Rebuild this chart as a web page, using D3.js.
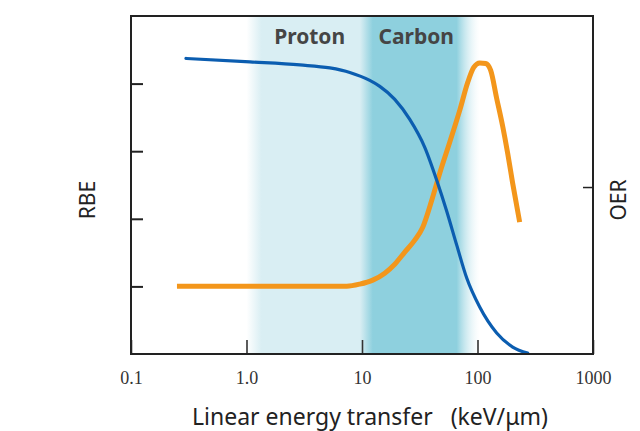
<!DOCTYPE html>
<html>
<head>
<meta charset="utf-8">
<script src="https://cdn.jsdelivr.net/npm/d3@7"></script>
<style>
  body { margin: 0; background: #fff; }
  svg { display: block; }
</style>
</head>
<body>
<svg id="chart" width="640" height="431"></svg>
<script>
// RBE / OER vs LET

// tick values on the log axis
const letTicks = [0.1, 1, 10, 100, 1000];
const letTickLabels = ["0.1", "1.0", "10", "100", "1000"];

// RBE curve (blue)
const rbeLet = [0.299, 1.07, 2.90, 5.27, 7.84, 11.68, 14.26, 19.22, 25.92, 34.94, 44.38, 54.15, 66.09, 80.66, 104.5, 146.6, 201.6, 271.8];
const rbeVal = [4.372, 4.321, 4.276, 4.232, 4.165, 4.047, 3.959, 3.767, 3.471, 3.058, 2.570, 2.112, 1.610, 1.123, 0.694, 0.310, 0.103, 0.015];

// OER curve (orange)
const oerLet = [0.25, 7.39, 9.57, 12.40, 15.75, 19.22, 23.46, 28.62, 33.57, 40.17, 47.10, 57.47, 70.15, 82.29, 92.71, 104.5, 117.8, 130.1, 146.6, 165.2, 182.5, 201.6, 231.8];
const oerVal = [1.004, 1.004, 1.034, 1.093, 1.196, 1.329, 1.507, 1.684, 1.876, 2.275, 2.674, 3.132, 3.604, 4.018, 4.239, 4.306, 4.298, 4.195, 3.781, 3.368, 2.969, 2.526, 1.950];

// shaded beam regions
const bandNames = ["Proton", "Carbon"];
const bandFrom = [1.0, 12.4];
const bandTo = [12.4, 70];
// gradient edges (LET) : fade-in, proton, transition, carbon, fade-out
const shadeLet = [1.0, 1.35, 9.6, 12.4, 66, 104];
const shadeLevel = [0, 1, 1, 2, 2, 0];

const rbeTicks = [1, 2, 3, 4];
const oerTicks = [2.47];

const width = 640, height = 431;
const margin = { top: 16, right: 48, bottom: 77, left: 131 };
const innerW = 593 - margin.left;
const innerH = 354 - margin.top;

const svg = d3.select("#chart");
const g = svg.append("g").attr("transform", `translate(${margin.left},${margin.top})`);

const x = d3.scaleLog().domain([0.1, 1000]).range([0, innerW]);
const y = d3.scaleLinear().domain([0, 5]).range([innerH, 0]);

// background bands with soft edges
const shadeColors = ["rgba(218,238,243,0)", "#d9eef3", "#8ed0de"];
const grad = svg.append("defs").append("linearGradient")
  .attr("id", "bandGrad")
  .attr("gradientUnits", "userSpaceOnUse")
  .attr("x1", 0).attr("x2", innerW).attr("y1", 0).attr("y2", 0);
grad.selectAll("stop")
  .data(shadeLet)
  .enter()
  .append("stop")
  .attr("offset", d => x(d) / innerW)
  .attr("stop-color", (d, i) => shadeColors[shadeLevel[i]]);

g.append("rect")
  .attr("x", x(shadeLet[0]))
  .attr("width", x(shadeLet[shadeLet.length - 1]) - x(shadeLet[0]))
  .attr("y", 0)
  .attr("height", innerH)
  .attr("fill", "url(#bandGrad)");

// band labels
g.selectAll(".band-label")
  .data(bandNames)
  .enter()
  .append("text")
  .attr("class", "band-label")
  .attr("x", (d, i) => x(Math.sqrt(bandFrom[i] * bandTo[i])))
  .attr("y", 28)
  .attr("text-anchor", "middle")
  .attr("font-family", "'Noto Sans', sans-serif")
  .attr("font-weight", "bold")
  .attr("font-size", 21)
  .attr("fill", "#454545")
  .text(d => d);

// curves
const line = d3.line()
  .x(d => x(d[0]))
  .y(d => y(d[1]))
  .curve(d3.curveMonotoneX);

g.append("path")
  .datum(oerLet.map((d, i) => [d, oerVal[i]]))
  .attr("d", line)
  .attr("fill", "none")
  .attr("stroke", "#f3961b")
  .attr("stroke-width", 5)
  .attr("stroke-linejoin", "round");

g.append("path")
  .datum(rbeLet.map((d, i) => [d, rbeVal[i]]))
  .attr("d", line)
  .attr("fill", "none")
  .attr("stroke", "#0b5db0")
  .attr("stroke-width", 3.2)
  .attr("stroke-linecap", "round");

// X axis (inward ticks)
const xAxis = g.append("g")
  .attr("transform", `translate(0,${innerH})`)
  .call(d3.axisBottom(x)
    .tickValues(letTicks)
    .tickSize(-14)
    .tickPadding(17)
    .tickFormat((d, i) => letTickLabels[i]));
xAxis.select(".domain").remove();
xAxis.selectAll("line").attr("stroke", "#333").attr("stroke-width", 1.6);
xAxis.selectAll("text")
  .attr("font-family", "'Liberation Serif', serif")
  .attr("font-size", 18)
  .attr("fill", "#333");

// left axis
const yAxis = g.append("g")
  .call(d3.axisLeft(y).tickValues(rbeTicks).tickSize(-12).tickFormat(""));
yAxis.select(".domain").remove();
yAxis.selectAll("line").attr("stroke", "#222").attr("stroke-width", 2);

// right axis
const y2Axis = g.append("g")
  .attr("transform", `translate(${innerW},0)`)
  .call(d3.axisRight(y).tickValues(oerTicks).tickSize(-10).tickFormat(""));
y2Axis.select(".domain").remove();
y2Axis.selectAll("line").attr("stroke", "#222").attr("stroke-width", 1.5);

// frame
g.append("rect")
  .attr("width", innerW)
  .attr("height", innerH)
  .attr("fill", "none")
  .attr("stroke", "#222")
  .attr("stroke-width", 2);

// axis titles
svg.append("text")
  .attr("transform", `translate(95,${margin.top + innerH / 2 + 15}) rotate(-90)`)
  .attr("text-anchor", "middle")
  .attr("font-family", "'Noto Sans', sans-serif")
  .attr("font-size", 21)
  .attr("fill", "#222")
  .text("RBE");

svg.append("text")
  .attr("transform", `translate(626,${margin.top + innerH / 2 + 15}) rotate(-90)`)
  .attr("text-anchor", "middle")
  .attr("font-family", "'Noto Sans', sans-serif")
  .attr("font-size", 21)
  .attr("fill", "#222")
  .text("OER");

svg.append("text")
  .attr("x", 370)
  .attr("y", 425)
  .attr("text-anchor", "middle")
  .attr("font-family", "'Noto Sans', sans-serif")
  .attr("font-size", 23)
  .attr("fill", "#222")
  .attr("xml:space", "preserve")
  .style("white-space", "pre")
  .text("Linear energy transfer   (keV/μm)");
</script>
</body>
</html>
